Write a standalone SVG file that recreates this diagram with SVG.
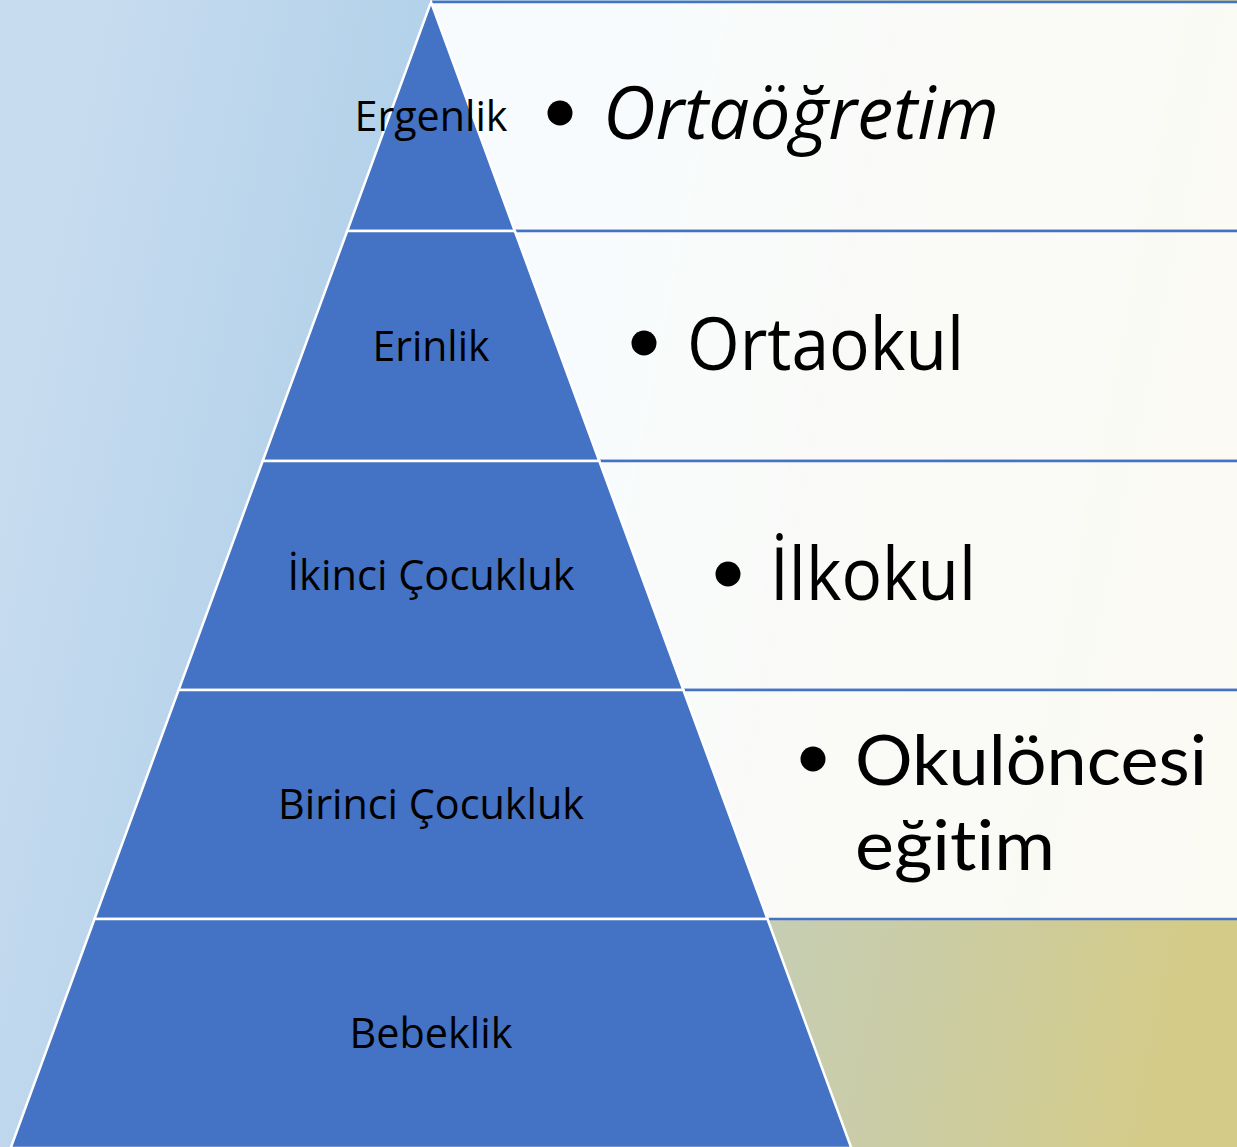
<svg xmlns="http://www.w3.org/2000/svg" width="1237" height="1147" viewBox="0 0 1237 1147">
  <defs>
    <linearGradient id="bg" gradientUnits="userSpaceOnUse" x1="0" y1="450" x2="1237" y2="700">
      <stop offset="0" stop-color="#C8DCEF"/>
      <stop offset="0.25" stop-color="#B4D2EA"/>
      <stop offset="0.45" stop-color="#B9D4E4"/>
      <stop offset="0.63" stop-color="#C4CEB8"/>
      <stop offset="0.82" stop-color="#CBCCA2"/>
      <stop offset="1" stop-color="#D4CB88"/>
    </linearGradient>
    <style>
      .layer { fill: #4472C4; stroke: #FFFFFF; stroke-width: 2.5; stroke-linejoin: miter; }
      .box { fill: #FFFFFF; fill-opacity: 0.9; stroke: #4472C4; stroke-width: 2.5; }
      .lbl { font-family: "Open Sans", "Noto Sans", "Liberation Sans", sans-serif; font-size: 42px; fill: #000000; text-anchor: middle; }
      .item { font-family: "Open Sans", "Noto Sans", "Liberation Sans", sans-serif; font-size: 73px; fill: #000000; }
      .item2 { font-family: Lato, "Open Sans", "Liberation Sans", sans-serif; font-size: 70px; fill: #000000; font-variant-ligatures: none; }
      .bullet { fill: #000000; }
    </style>
  </defs>

  <rect x="0" y="0" width="1237" height="1147" fill="url(#bg)"/>

  <g id="boxes">
    <g id="box-ortaogretim">
      <rect class="box" x="431" y="2" width="850" height="229"/>
      <circle class="bullet" cx="560" cy="113" r="12.5"/>
      <text class="item" x="603" y="139" font-style="italic" textLength="396" lengthAdjust="spacingAndGlyphs">Ortaöğretim</text>
    </g>
    <g id="box-ortaokul">
      <rect class="box" x="431" y="231" width="850" height="230"/>
      <circle class="bullet" cx="644" cy="343" r="12.5"/>
      <text class="item" x="687" y="370" textLength="277" lengthAdjust="spacingAndGlyphs">Ortaokul</text>
    </g>
    <g id="box-ilkokul">
      <rect class="box" x="431" y="461" width="850" height="229"/>
      <circle class="bullet" cx="728" cy="574" r="12.5"/>
      <text class="item" x="770" y="600" textLength="206" lengthAdjust="spacingAndGlyphs">İlkokul</text>
    </g>
    <g id="box-okuloncesi">
      <rect class="box" x="431" y="690" width="850" height="229"/>
      <circle class="bullet" cx="813" cy="759" r="12.5"/>
      <text class="item2"><tspan x="855" y="785" textLength="352" lengthAdjust="spacingAndGlyphs">Okulöncesi</tspan><tspan x="855" y="870" textLength="200" lengthAdjust="spacingAndGlyphs">eğitim</tspan></text>
    </g>
  </g>

  <g id="pyramid">
    <g id="layer-ergenlik">
      <polygon class="layer" points="431,2 514.8,231 347.2,231"/>
      <text class="lbl" x="431" y="131" textLength="153" lengthAdjust="spacingAndGlyphs">Ergenlik</text>
    </g>
    <g id="layer-erinlik">
      <polygon class="layer" points="347.2,231 514.8,231 599.3,461 262.7,461"/>
      <text class="lbl" x="431" y="361" textLength="117" lengthAdjust="spacingAndGlyphs">Erinlik</text>
    </g>
    <g id="layer-ikinci">
      <polygon class="layer" points="262.7,461 599.3,461 683.4,690 178.6,690"/>
      <text class="lbl" x="431" y="590" textLength="287" lengthAdjust="spacingAndGlyphs">İkinci Çocukluk</text>
    </g>
    <g id="layer-birinci">
      <polygon class="layer" points="178.6,690 683.4,690 767.5,919 94.5,919"/>
      <text class="lbl" x="431" y="819" textLength="306" lengthAdjust="spacingAndGlyphs">Birinci Çocukluk</text>
    </g>
    <g id="layer-bebeklik">
      <polygon class="layer" points="94.5,919 767.5,919 851.3,1148 10.7,1148"/>
      <text class="lbl" x="431" y="1048" textLength="163" lengthAdjust="spacingAndGlyphs">Bebeklik</text>
    </g>
  </g>

  <g id="connectors"></g>
</svg>
